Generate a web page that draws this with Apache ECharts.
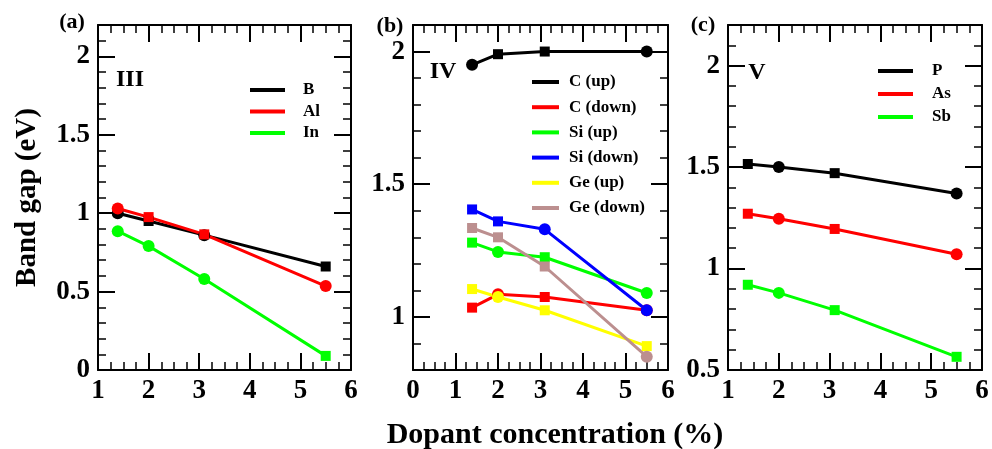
<!DOCTYPE html>
<html>
<head>
<meta charset="utf-8">
<script src="https://cdn.jsdelivr.net/npm/echarts@6/dist/echarts.min.js"></script>
<style>
html, body { margin: 0; padding: 0; background: #fff; }
#chart { width: 992px; height: 449px; }
</style>
</head>
<body>
<div id="chart"></div>
<script>
// dopant concentration (%) shared by every curve
const dopant = [1.39, 2.0, 3.1, 5.5];

// (a) group III
const gapB  = [1.00, 0.95, 0.86, 0.66];
const gapAl = [1.03, 0.975, 0.865, 0.535];
const gapIn = [0.885, 0.79, 0.58, 0.09];

// (b) group IV
const gapCup    = [1.95, 1.99, 2.0, 2.0];
const gapCdown  = [1.035, 1.085, 1.075, 1.025];
const gapSiUp   = [1.28, 1.245, 1.225, 1.09];
const gapSiDown = [1.405, 1.36, 1.33, 1.025];
const gapGeUp   = [1.105, 1.075, 1.025, 0.89];
const gapGeDown = [1.335, 1.30, 1.19, 0.85];

// (c) group V
const gapP  = [1.515, 1.50, 1.47, 1.37];
const gapAs = [1.27, 1.245, 1.195, 1.07];
const gapSb = [0.92, 0.88, 0.795, 0.565];

// tick labels
const xTicksA = [1, 2, 3, 4, 5, 6];
const yTicksA = [0, 0.5, 1, 1.5, 2];
const xTicksB = [0, 1, 2, 3, 4, 5, 6];
const yTicksB = [1, 1.5, 2];
const xTicksC = [1, 2, 3, 4, 5, 6];
const yTicksC = [0.5, 1, 1.5, 2];

const C = 'circle', S = 'rect';
const FONT = '"Liberation Serif", "DejaVu Serif", serif';

let chart = echarts.init(document.getElementById('chart'));

function steps(min, max, step) {
    let out = [];
    for (let i = 0; min + i * step <= max + 1e-9; i++) out.push(+(min + i * step).toFixed(4));
    return out;
}

function axis(g, pos, min, max, ticks, len, main) {
    let a = {
        type: 'value', gridIndex: g, position: pos, min: min, max: max,
        axisLine: { show: main, onZero: false, lineStyle: { color: '#000', width: 2 } },
        axisTick: { show: true, inside: true, length: len, customValues: ticks,
                    lineStyle: { color: '#000', width: len > 10 ? 2 : 1.5 } },
        axisLabel: { show: false },
        splitLine: { show: false }
    };
    if (main && (pos === 'left' || pos === 'bottom')) {
        a.axisLabel = { show: true, customValues: ticks, margin: 8, color: '#000',
                        fontFamily: FONT, fontWeight: 'bold', fontSize: 27 };
    }
    return a;
}

// four x axes and four y axes per panel: major + minor ticks on every side
function panelAxes(g, xr, xt, yr, yt) {
    let xm = steps(xr[0], xr[1], 0.25), ym = steps(yr[0], yr[1], 0.1);
    return {
        x: [axis(g, 'bottom', xr[0], xr[1], xt, 17, true), axis(g, 'bottom', xr[0], xr[1], xm, 8, false),
            axis(g, 'top', xr[0], xr[1], xt, 17, true), axis(g, 'top', xr[0], xr[1], xm, 8, false)],
        y: [axis(g, 'left', yr[0], yr[1], yt, 17, true), axis(g, 'left', yr[0], yr[1], ym, 8, false),
            axis(g, 'right', yr[0], yr[1], yt, 17, true), axis(g, 'right', yr[0], yr[1], ym, 8, false)]
    };
}

function line(name, values, shapes, color, g) {
    return {
        name: name, type: 'line', xAxisIndex: 4 * g, yAxisIndex: 4 * g,
        data: values.map((v, i) => ({ value: [dopant[i], v], symbol: shapes[i],
                                      symbolSize: shapes[i] === S ? 10 : 12 })),
        lineStyle: { color: color, width: 3 },
        itemStyle: { color: color },
        animation: false
    };
}

function legend(names, left, top, w, textGap, rowStep) {
    return {
        data: names, orient: 'vertical', left: left, top: top, icon: 'rect',
        itemWidth: w, itemHeight: 4, itemGap: rowStep - 17, selectedMode: false,
        textStyle: { fontFamily: FONT, fontWeight: 'bold', fontSize: 17, lineHeight: 17,
                     color: '#000', padding: [0, 0, 0, textGap - 5] }
    };
}

function label(text, x, y, size) {
    return { type: 'text', x: x, y: y,
             style: { text: text, fill: '#000', font: 'bold ' + size + 'px ' + FONT,
                      textAlign: 'center', textVerticalAlign: 'middle',
                      align: 'center', verticalAlign: 'middle' } };
}

let pa = panelAxes(0, [1, 6], xTicksA, [0, 2.2], yTicksA);
let pb = panelAxes(1, [0, 6], xTicksB, [0.8, 2.1], yTicksB);
let pc = panelAxes(2, [1, 6], xTicksC, [0.5, 2.2], yTicksC);

pa.y[0].name = 'Band gap (eV)';
pa.y[0].nameLocation = 'middle';
pa.y[0].nameGap = 56;
pa.y[0].nameTextStyle = { fontFamily: FONT, fontWeight: 'bold', fontSize: 29, color: '#000' };

let option = {
    backgroundColor: '#fff',
    animation: false,
    grid: [
        { left: 98, top: 25, width: 253, height: 345 },
        { left: 413, top: 25, width: 255, height: 345 },
        { left: 728, top: 25, width: 254, height: 345 }
    ],
    xAxis: pa.x.concat(pb.x, pc.x),
    yAxis: pa.y.concat(pb.y, pc.y),
    legend: [
        legend(['B', 'Al', 'In'], 245, 76.5, 35, 18, 21.5),
        legend(['C (up)', 'C (down)', 'Si (up)', 'Si (down)', 'Ge (up)', 'Ge (down)'], 527, 68.5, 27, 10, 25.2),
        legend(['P', 'As', 'Sb'], 873, 57.5, 35, 19, 23)
    ],
    graphic: [
        label('(a)', 72, 22, 22),
        label('(b)', 390, 26, 22),
        label('(c)', 703, 25, 22),
        label('III', 130, 80, 24),
        label('IV', 443, 72, 24),
        label('V', 757, 73, 24),
        label('Dopant concentration (%)', 555, 435, 30)
    ],
    series: [
        line('B', gapB, [C, S, C, S], '#000000', 0),
        line('Al', gapAl, [C, S, S, C], '#ff0000', 0),
        line('In', gapIn, [C, C, C, S], '#00ff00', 0),

        line('C (up)', gapCup, [C, S, S, C], '#000000', 1),
        line('C (down)', gapCdown, [S, C, S, C], '#ff0000', 1),
        line('Si (up)', gapSiUp, [S, C, S, C], '#00ff00', 1),
        line('Si (down)', gapSiDown, [S, S, C, C], '#0000ff', 1),
        line('Ge (up)', gapGeUp, [S, C, S, S], '#ffff00', 1),
        line('Ge (down)', gapGeDown, [S, S, S, C], '#bc8f8f', 1),

        line('P', gapP, [S, C, S, C], '#000000', 2),
        line('As', gapAs, [S, C, S, C], '#ff0000', 2),
        line('Sb', gapSb, [S, C, S, S], '#00ff00', 2)
    ]
};

chart.setOption(option);

window.onresize = function () {
    chart.resize();
};
</script>
</body>
</html>
